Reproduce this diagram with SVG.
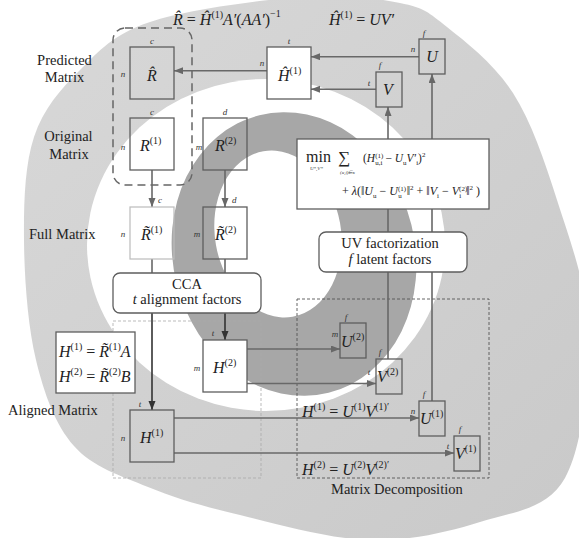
<svg xmlns="http://www.w3.org/2000/svg" width="579" height="538" viewBox="0 0 579 538">
<defs>
<style>
.box{fill:none;stroke:#5e5e5e;stroke-width:1.3}
.wbox{fill:#fff;stroke:#5e5e5e;stroke-width:1.3}
.conn{stroke:#686868;stroke-width:1.6;fill:none}
.dk{stroke:#333}
.lbl{font-family:"Liberation Serif",serif;font-size:14.5px;fill:#222}
.math{font-family:"Liberation Serif",serif;font-style:italic;font-size:16px;fill:#222}
.up{font-style:normal}
.sup{font-style:normal;font-size:10px}
.dim{font-family:"Liberation Serif",serif;font-style:italic;font-size:9px;fill:#333}
.m11{font-family:"Liberation Serif",serif;font-style:italic;font-size:11.5px;fill:#222}
.m12{font-family:"Liberation Serif",serif;font-style:italic;font-size:12px;fill:#222}
.s7{font-style:normal;font-size:7px}
.tiny{font-family:"Liberation Serif",serif;font-style:italic;font-size:5px;fill:#333}
</style>
<linearGradient id="lg" x1="0" y1="0" x2="1" y2="1"><stop offset="0" stop-color="#d8d8d8"/><stop offset="1" stop-color="#c9c9c9"/></linearGradient>
<marker id="ah" markerUnits="userSpaceOnUse" markerWidth="10" markerHeight="8" refX="9" refY="3.5" orient="auto"><path d="M0,0 L9,3.5 L0,7 z" fill="#686868"/></marker>
<marker id="ahd" markerUnits="userSpaceOnUse" markerWidth="10" markerHeight="8" refX="9" refY="3.5" orient="auto"><path d="M0,0 L9,3.5 L0,7 z" fill="#333"/></marker>
</defs>
<rect width="579" height="538" fill="#fff"/>
<g id="background">
<path d="M300,-3 C341.7,-6.2 375.5,-2 400,3 C424.5,8 428.2,12 447,27 C465.8,42 494.7,64.2 513,93 C531.3,121.8 544.5,160.5 557,200 C569.5,239.5 586.7,283.7 588,330 C589.3,376.3 583,446 565,478 C547,510 512.7,511.7 480,522 C447.3,532.3 409,541.2 369,540 C329,538.8 276.8,523.8 240,515 C203.2,506.2 175.7,498.5 148,487 C120.3,475.5 92.7,467.2 74,446 C55.3,424.8 44.3,394.3 36,360 C27.7,325.7 24.3,277.2 24,240 C23.7,202.8 24.7,165.3 34,137 C43.3,108.7 60.7,89.2 80,70 C99.3,50.8 113.3,34.2 150,22 C186.7,9.8 258.3,0.2 300,-3 Z" fill="url(#lg)"/>
<ellipse cx="266" cy="245" rx="179" ry="166" fill="#fff"/>
<ellipse cx="294" cy="254" rx="121" ry="143" transform="rotate(-14 294 254)" fill="#a7a7a7"/>
<ellipse cx="278" cy="234" rx="63" ry="84" transform="rotate(-10 278 234)" fill="#fff"/>
</g>
<g id="regions">
<rect x="113" y="28" width="79" height="157" rx="12" fill="none" stroke="#666" stroke-width="1.5" stroke-dasharray="8 5"/>
<rect x="113" y="321" width="148" height="157" fill="none" stroke="#aaa" stroke-width="0.8" stroke-dasharray="3 2"/>
<rect x="297" y="299" width="192" height="179" fill="none" stroke="#555" stroke-width="0.9" stroke-dasharray="3 2"/>
</g>
<g id="connectors">
<line class="conn" x1="267" y1="70.7" x2="174" y2="70.7" marker-end="url(#ah)"/>
<line class="conn" x1="419" y1="56.7" x2="311" y2="56.7" marker-end="url(#ah)"/>
<line class="conn" x1="376" y1="89.3" x2="311" y2="89.3" marker-end="url(#ah)"/>
<line class="conn" x1="388" y1="139" x2="388" y2="107" marker-end="url(#ah)"/>
<line class="conn" x1="432" y1="139" x2="432" y2="74" marker-end="url(#ah)"/>
<line class="conn" x1="152" y1="170" x2="152" y2="207" marker-end="url(#ah)"/>
<line class="conn" x1="225" y1="170" x2="225" y2="207" marker-end="url(#ah)"/>
<line class="conn" x1="152" y1="259" x2="152" y2="273"/>
<line class="conn" x1="225" y1="259" x2="225" y2="273"/>
<line class="conn dk" x1="152" y1="313" x2="152" y2="410" marker-end="url(#ahd)"/>
<line class="conn dk" x1="225" y1="313" x2="225" y2="340" marker-end="url(#ahd)"/>
<line class="conn" x1="247" y1="349" x2="340" y2="349" marker-end="url(#ah)"/>
<line class="conn" x1="247" y1="383.5" x2="376" y2="383.5" marker-end="url(#ah)"/>
<line class="conn" x1="174" y1="418" x2="419" y2="418" marker-end="url(#ah)"/>
<line class="conn" x1="174" y1="453" x2="454" y2="453" marker-end="url(#ah)"/>
<line class="conn" x1="388" y1="209" x2="388" y2="359"/>
<line class="conn" x1="432" y1="209" x2="432" y2="401"/>
</g>
<g id="Rhat"><rect class="box" x="130" y="47" width="44" height="52"/><text class="math" x="152" y="81" text-anchor="middle">R̂</text><text class="dim" x="152" y="44" text-anchor="middle">c</text><text class="dim" x="123" y="77" text-anchor="middle">n</text></g>
<g id="R1"><rect class="box" x="130" y="118" width="44" height="52"/><text class="math" x="140" y="151">R<tspan class="sup" dy="-7">(1)</tspan></text><text class="dim" x="152" y="115" text-anchor="middle">c</text><text class="dim" x="123" y="150" text-anchor="middle">n</text></g>
<g id="R2"><rect class="box" x="203" y="118" width="44" height="52"/><text class="math" x="215" y="151">R<tspan class="sup" dy="-7">(2)</tspan></text><text class="dim" x="225" y="115" text-anchor="middle">d</text><text class="dim" x="199" y="150" text-anchor="middle">m</text></g>
<g id="Rt1"><rect x="130" y="207" width="44" height="52" fill="none" stroke="#bbb" stroke-width="1.2"/><text class="math" x="141" y="240">R̃<tspan class="sup" dy="-7">(1)</tspan></text><text class="dim" x="158" y="203">c</text><text class="dim" x="123" y="237" text-anchor="middle">n</text></g>
<g id="Rt2"><rect class="box" x="203" y="207" width="44" height="52"/><text class="math" x="215" y="240">R̃<tspan class="sup" dy="-7">(2)</tspan></text><text class="dim" x="232" y="203">d</text><text class="dim" x="197" y="237" text-anchor="middle">m</text></g>
<g id="CCA"><rect class="wbox" x="113" y="273" width="148" height="40" rx="7"/><text class="lbl" x="187" y="289" text-anchor="middle">CCA</text><text class="lbl" x="187" y="304" text-anchor="middle"><tspan font-style="italic">t</tspan> alignment  factors</text></g>
<g id="H2"><rect class="wbox" x="203" y="340" width="44" height="52"/><text class="math" x="213" y="373">H<tspan class="sup" dy="-7">(2)</tspan></text><text class="dim" x="213" y="336" text-anchor="middle">t</text><text class="dim" x="197" y="371" text-anchor="middle">m</text></g>
<g id="H1"><rect class="box" x="130" y="410" width="44" height="52"/><text class="math" x="140" y="443">H<tspan class="sup" dy="-7">(1)</tspan></text><text class="dim" x="140" y="407" text-anchor="middle">t</text><text class="dim" x="123" y="441" text-anchor="middle">n</text></g>
<g id="Hdef"><rect class="wbox" x="56" y="332" width="79" height="61"/><text class="math" x="59" y="357">H<tspan class="sup" dy="-7">(1)</tspan><tspan class="up" dy="7"> = </tspan>R̃<tspan class="sup" dy="-7">(1)</tspan><tspan dy="7">A</tspan></text><text class="math" x="59" y="382">H<tspan class="sup" dy="-7">(2)</tspan><tspan class="up" dy="7"> = </tspan>R̃<tspan class="sup" dy="-7">(2)</tspan><tspan dy="7">B</tspan></text></g>
<g id="Hhat"><rect class="wbox" x="267" y="47" width="44" height="52"/><text class="math" x="278" y="81">Ĥ<tspan class="sup" dy="-7">(1)</tspan></text><text class="dim" x="289" y="44" text-anchor="middle">t</text><text class="dim" x="262" y="66" text-anchor="middle">n</text></g>
<g id="U"><rect class="box" x="419" y="39" width="26" height="35"/><text class="math" x="432" y="62" text-anchor="middle">U</text><text class="dim" x="424" y="36" text-anchor="middle">f</text><text class="dim" x="413" y="52" text-anchor="middle">n</text></g>
<g id="V"><rect class="box" x="376" y="72" width="26" height="35"/><text class="math" x="388" y="95" text-anchor="middle">V</text><text class="dim" x="380" y="68" text-anchor="middle">f</text><text class="dim" x="369" y="86" text-anchor="middle">t</text></g>
<g id="objective"><rect class="wbox" x="297" y="139" width="192" height="70"/>
<text x="306" y="162" font-family="Liberation Serif,serif" font-size="16" fill="#222">min</text>
<text class="tiny" x="310" y="170">U*,V*</text>
<text x="338" y="163" font-family="Liberation Serif,serif" font-size="17" fill="#222">∑</text>
<text class="tiny" x="340" y="174">(u,i)∈κ</text>
<text class="m11" x="363" y="162"><tspan class="up">(</tspan>H<tspan class="s7" dy="-4">(1)</tspan><tspan class="s7" dx="-8" dy="7">u,i</tspan><tspan class="up" dy="-3"> − </tspan>U<tspan class="s7" dy="3">u</tspan><tspan dy="-3">V′</tspan><tspan class="s7" dy="3">i</tspan><tspan class="up" dy="-3">)</tspan><tspan class="s7" dy="-5">2</tspan></text>
<text class="m12" x="342" y="195"><tspan class="up">+ </tspan>λ<tspan class="up">(‖</tspan>U<tspan class="s7" dy="3">u</tspan><tspan class="up" dy="-3"> − </tspan>U<tspan class="s7" dy="-4">(1)</tspan><tspan class="s7" dx="-8" dy="7">u</tspan><tspan class="up" dx="5" dy="-3">‖</tspan><tspan class="s7" dy="-5">2</tspan><tspan class="up" dy="5"> + ‖</tspan>V<tspan class="s7" dy="3">i</tspan><tspan class="up" dy="-3"> − </tspan>V<tspan class="s7" dy="-4">(2)</tspan><tspan class="s7" dx="-8" dy="7">i</tspan><tspan class="up" dx="5" dy="-3">‖</tspan><tspan class="s7" dy="-5">2</tspan><tspan class="up" dy="5"> )</tspan></text>
</g>
<g id="UVfact"><rect class="wbox" x="319" y="232" width="148" height="40" rx="7"/><text class="lbl" x="390" y="248" text-anchor="middle">UV factorization</text><text class="lbl" x="390" y="264" text-anchor="middle"><tspan font-style="italic">f</tspan> latent  factors</text></g>
<g id="U2"><rect class="box" x="340" y="323" width="26" height="35"/><text class="math" x="341" y="347">U<tspan class="sup" dy="-7">(2)</tspan></text><text class="dim" x="346" y="320" text-anchor="middle">f</text><text class="dim" x="335" y="337" text-anchor="middle">m</text></g>
<g id="V2"><rect class="box" x="376" y="359" width="26" height="35"/><text class="math" x="377" y="382">V<tspan class="sup" dy="-7">(2)</tspan></text><text class="dim" x="380" y="355" text-anchor="middle">f</text><text class="dim" x="369" y="375" text-anchor="middle">t</text></g>
<g id="U1"><rect class="box" x="419" y="401" width="26" height="35"/><text class="math" x="420" y="424">U<tspan class="sup" dy="-7">(1)</tspan></text><text class="dim" x="424" y="397" text-anchor="middle">f</text><text class="dim" x="413" y="414" text-anchor="middle">n</text></g>
<g id="V1"><rect class="box" x="454" y="436" width="26" height="35"/><text class="math" x="455" y="459">V<tspan class="sup" dy="-7">(1)</tspan></text><text class="dim" x="460" y="432" text-anchor="middle">f</text><text class="dim" x="448" y="449" text-anchor="middle">t</text></g>
<g id="labels">
<text class="lbl" x="64.5" y="64.5" text-anchor="middle">Predicted</text>
<text class="lbl" x="64.5" y="82" text-anchor="middle">Matrix</text>
<text class="lbl" x="68.5" y="141" text-anchor="middle">Original</text>
<text class="lbl" x="69" y="158.5" text-anchor="middle">Matrix</text>
<text class="lbl" x="29" y="238.5">Full Matrix</text>
<text class="lbl" x="8" y="415">Aligned Matrix</text>
<text class="lbl" x="331" y="494">Matrix Decomposition</text>
<text class="math" x="173" y="25">R̂<tspan class="up"> = </tspan>Ĥ<tspan class="sup" dy="-7">(1)</tspan><tspan dy="7">A′</tspan><tspan class="up">(</tspan>AA′<tspan class="up">)</tspan><tspan class="sup" dy="-8">−1</tspan></text>
<text class="math" x="329" y="25">Ĥ<tspan class="sup" dy="-7">(1)</tspan><tspan class="up" dy="7"> = </tspan>UV′</text>
<text class="math" x="302" y="417">H<tspan class="sup" dy="-7">(1)</tspan><tspan class="up" dy="7"> = </tspan>U<tspan class="sup" dy="-7">(1)</tspan><tspan dy="7">V</tspan><tspan class="sup" dy="-7">(1)′</tspan></text>
<text class="math" x="302" y="475">H<tspan class="sup" dy="-7">(2)</tspan><tspan class="up" dy="7"> = </tspan>U<tspan class="sup" dy="-7">(2)</tspan><tspan dy="7">V</tspan><tspan class="sup" dy="-7">(2)′</tspan></text>
</g>
</svg>
